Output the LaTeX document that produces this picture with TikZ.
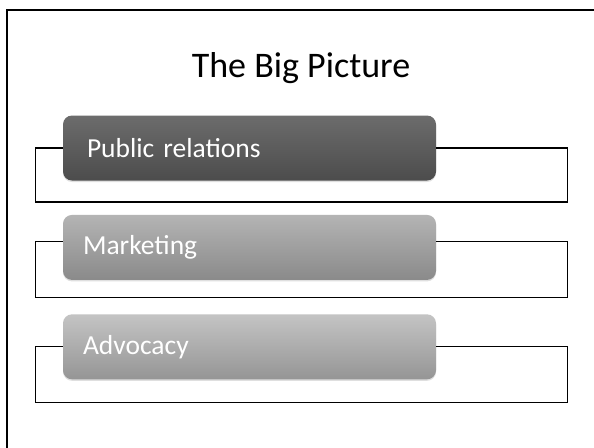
\documentclass[tikz,border=0pt]{standalone}
\usepackage{fontspec}
\setmainfont{Carlito}
\usepackage{tikz}
\usepackage{xcolor}
\usetikzlibrary{positioning,shadows}
\definecolor{bpdarktop}{HTML}{6C6C6C}
\definecolor{bpdarkbot}{HTML}{4C4C4C}
\definecolor{bpmidtop}{HTML}{B4B4B4}
\definecolor{bpmidbot}{HTML}{8A8A8A}
\definecolor{bplighttop}{HTML}{C4C4C4}
\definecolor{bplightbot}{HTML}{959595}
\tikzset{
  topicBox/.style={rounded corners=9pt, text=white, text width=333pt, align=left,
    inner xsep=20pt, minimum height=65pt, font=\fontsize{27.5}{31}\selectfont,
    drop shadow={shadow xshift=0pt, shadow yshift=-1.5pt, opacity=0.25}},
  bracketLine/.style={draw=black, line width=1.1pt},
  frameLine/.style={draw=black, line width=2.2pt}
}

\begin{document}
\begin{tikzpicture}[x=1pt, y=-1pt, node distance=34pt]
  \useasboundingbox (0,0) rectangle (594,447);
  \clip (0,0) rectangle (594,447);
  \fill[white] (0,0) rectangle (594,447);
  \draw[frameLine] (7,10) rectangle (640,490);

  \node[anchor=base, font=\fontsize{36}{42}\selectfont] (title) at (301,77) {The Big Picture};

  \node[topicBox, top color=bpdarktop, bottom color=bpdarkbot] (pr) at (249.5,148) {\hspace{4pt}Public relations};
  \node[topicBox, top color=bpmidtop, bottom color=bpmidbot, below=of pr] (mk) {Marketing};
  \node[topicBox, top color=bplighttop, bottom color=bplightbot, below=of mk] (adv) {Advocacy};

  % open brackets behind each topic
  \draw[bracketLine] (pr.west) -- ++(-27,0) |- ++(532,54) |- (pr.east);
  \draw[bracketLine] ([yshift=6pt]mk.west) -- ++(-27,0) |- ++(532,56) |- ([yshift=6pt]mk.east);
  \draw[bracketLine] (adv.west) -- ++(-27,0) |- ++(532,56) |- (adv.east);
\end{tikzpicture}
\end{document}
